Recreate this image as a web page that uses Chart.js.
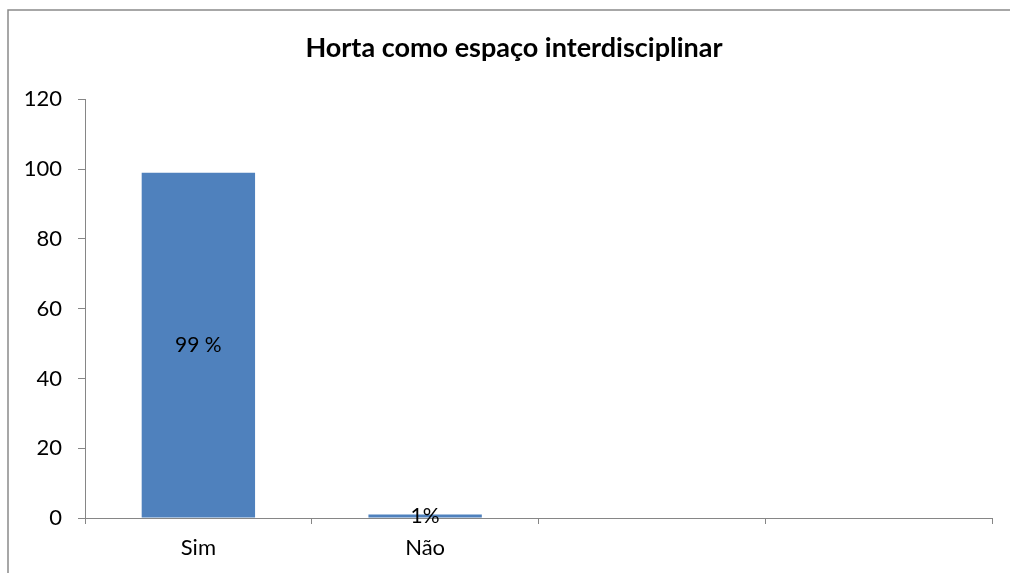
<!DOCTYPE html>
<html>
<head>
<meta charset="utf-8">
<script src="https://cdn.jsdelivr.net/npm/chart.js@4.4.0/dist/chart.umd.min.js"></script>
<style>
html, body { margin: 0; padding: 0; background: #fff; }
#wrap { width: 1010px; height: 573px; position: relative; }
</style>
</head>
<body>
<div id="wrap"><canvas id="bar_chart" width="1010" height="573"></canvas></div>
<script>
var categories = ['Sim', 'Não', '', ''];
var values = [99, 1, null, null];
var valueLabels = ['99 %', '1%', '', ''];
var yTicks = [0, 20, 40, 60, 80, 100, 120];
var chartTitle = 'Horta como espaço interdisciplinar';

var axisColor = '#868686';
var fontFamily = 'Lato, "Open Sans", sans-serif';

// grey frame around the chart (only left/top visible in the picture)
var framePlugin = {
    id: 'frame',
    beforeDraw: function (chart) {
        var ctx = chart.ctx;
        ctx.save();
        ctx.strokeStyle = '#8a8a8a';
        ctx.lineWidth = 1.5;
        ctx.beginPath();
        ctx.moveTo(8, 573);
        ctx.lineTo(8, 10);
        ctx.lineTo(1010, 10);
        ctx.stroke();
        ctx.restore();
    },
    // widen the y label clip area so "120" is not cut
    afterLayout: function (chart) {
        chart.scales.y.left = 10;
    }
};

// value labels in the middle of each bar
var labelPlugin = {
    id: 'valueLabels',
    afterDatasetsDraw: function (chart) {
        var ctx = chart.ctx;
        var meta = chart.getDatasetMeta(0);
        ctx.save();
        ctx.fillStyle = '#000';
        ctx.font = '21px ' + fontFamily;
        ctx.textAlign = 'center';
        ctx.textBaseline = 'middle';
        meta.data.forEach(function (bar, i) {
            if (values[i] === null || !valueLabels[i]) return;
            ctx.fillText(valueLabels[i], bar.x, (bar.y + bar.base) / 2);
        });
        ctx.restore();
    }
};

var config = {
    type: 'bar',
    data: {
        labels: categories,
        datasets: [{
            data: values,
            backgroundColor: '#4F81BD',
            barPercentage: 0.5,
            categoryPercentage: 1
        }]
    },
    options: {
        responsive: false,
        animation: false,
        devicePixelRatio: 1,
        layout: { padding: { left: 36, right: 18, top: 0, bottom: 0 } },
        plugins: {
            legend: { display: false },
            tooltip: { enabled: false },
            title: {
                display: true,
                text: chartTitle,
                color: '#000',
                font: { family: fontFamily, size: 27, weight: 'bold', lineHeight: 1.2 },
                padding: { top: 32, bottom: 35 }
            }
        },
        scales: {
            x: {
                offset: true,
                grid: { offset: true, drawOnChartArea: false, tickLength: 6, color: axisColor },
                border: { color: axisColor },
                ticks: { color: '#000', font: { family: fontFamily, size: 22 }, padding: 11, maxRotation: 0, autoSkip: false },
                afterFit: function (s) { s.height = 55; }
            },
            y: {
                min: yTicks[0],
                max: yTicks[yTicks.length - 1],
                grid: { drawOnChartArea: false, tickLength: 7, color: axisColor },
                border: { color: axisColor },
                ticks: { stepSize: yTicks[1] - yTicks[0], color: '#000', font: { family: fontFamily, size: 22 }, padding: 16 },
                afterFit: function (s) { s.width = 49; }
            }
        }
    },
    plugins: [framePlugin, labelPlugin]
};

new Chart(document.getElementById('bar_chart').getContext('2d'), config);
</script>
</body>
</html>
